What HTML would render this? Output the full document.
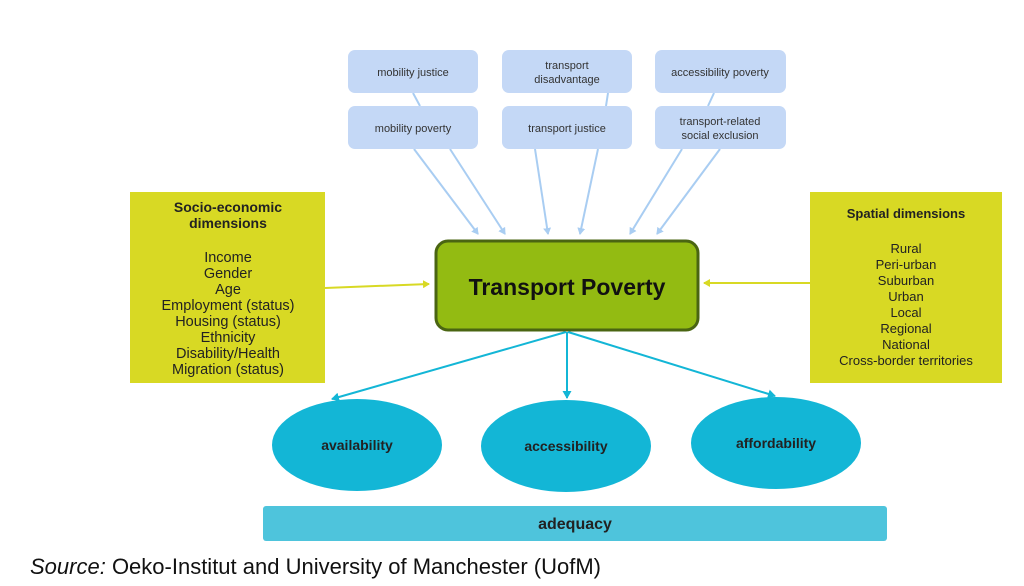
<!DOCTYPE html>
<html><head><style>
body{margin:0;background:#fff;width:1024px;height:581px;overflow:hidden;font-family:"Liberation Sans",sans-serif}
</style></head><body>
<svg width="1024" height="581" viewBox="0 0 1024 581" xmlns="http://www.w3.org/2000/svg" font-family="Liberation Sans, sans-serif">
<defs>
<marker id="ab" markerWidth="8" markerHeight="8" refX="6" refY="4" orient="auto" markerUnits="userSpaceOnUse"><path d="M0,0 L7,4 L0,8 z" fill="#a9cdf2"/></marker>
<marker id="ay" markerWidth="8" markerHeight="8" refX="6" refY="4" orient="auto" markerUnits="userSpaceOnUse"><path d="M0,0 L7,4 L0,8 z" fill="#d8d924"/></marker>
<marker id="ac" markerWidth="9" markerHeight="9" refX="7" refY="4.5" orient="auto" markerUnits="userSpaceOnUse"><path d="M0,0 L8,4.5 L0,9 z" fill="#13b6d6"/></marker>
</defs>
<g stroke="#a9cdf2" stroke-width="2">
<line x1="413" y1="93" x2="420" y2="106"/><line x1="608" y1="93" x2="606" y2="106"/><line x1="714" y1="93" x2="708" y2="106"/>
<line x1="414" y1="149" x2="478" y2="234" marker-end="url(#ab)"/>
<line x1="450" y1="149" x2="505" y2="234" marker-end="url(#ab)"/>
<line x1="535" y1="149" x2="548" y2="234" marker-end="url(#ab)"/>
<line x1="598" y1="149" x2="580" y2="234" marker-end="url(#ab)"/>
<line x1="682" y1="149" x2="630" y2="234" marker-end="url(#ab)"/>
<line x1="720" y1="149" x2="657" y2="234" marker-end="url(#ab)"/>
</g>
<g fill="#c4d8f6">
<rect x="348" y="50" width="130" height="43" rx="7"/><rect x="348" y="106" width="130" height="43" rx="7"/>
<rect x="502" y="50" width="130" height="43" rx="7"/><rect x="502" y="106" width="130" height="43" rx="7"/>
<rect x="655" y="50" width="131" height="43" rx="7"/><rect x="655" y="106" width="131" height="43" rx="7"/>
</g>
<g font-size="11" fill="#333" text-anchor="middle">
<text x="413" y="76">mobility justice</text>
<text x="413" y="132">mobility poverty</text>
<text x="567" y="69">transport</text><text x="567" y="83">disadvantage</text>
<text x="567" y="132">transport justice</text>
<text x="720" y="76">accessibility poverty</text>
<text x="720" y="125">transport-related</text><text x="720" y="139">social exclusion</text>
</g>
<rect x="130" y="192" width="195" height="191" fill="#d8d924"/>
<rect x="810" y="192" width="192" height="191" fill="#d8d924"/>
<g font-size="14.5" fill="#222" text-anchor="middle">
<text x="228" y="212" font-weight="bold" font-size="14">Socio-economic</text>
<text x="228" y="228" font-weight="bold" font-size="14">dimensions</text>
<text x="228" y="262">Income</text><text x="228" y="278">Gender</text><text x="228" y="294">Age</text>
<text x="228" y="310">Employment (status)</text><text x="228" y="326">Housing (status)</text>
<text x="228" y="342">Ethnicity</text><text x="228" y="358">Disability/Health</text><text x="228" y="374">Migration (status)</text>
</g>
<g font-size="13" fill="#222" text-anchor="middle">
<text x="906" y="218" font-weight="bold">Spatial dimensions</text>
<text x="906" y="253">Rural</text><text x="906" y="269">Peri-urban</text><text x="906" y="285">Suburban</text>
<text x="906" y="301">Urban</text><text x="906" y="317">Local</text><text x="906" y="333">Regional</text>
<text x="906" y="349">National</text><text x="906" y="365">Cross-border territories</text>
</g>
<line x1="325" y1="288" x2="429" y2="284" stroke="#d8d924" stroke-width="2" marker-end="url(#ay)"/>
<line x1="810" y1="283" x2="704" y2="283" stroke="#d8d924" stroke-width="2" marker-end="url(#ay)"/>
<rect x="436" y="241" width="262" height="89" rx="12" fill="#93bb12" stroke="#4a6512" stroke-width="3"/>
<text x="567" y="295" font-size="23" font-weight="bold" text-anchor="middle" fill="#111">Transport Poverty</text>
<g stroke="#13b6d6" stroke-width="2">
<line x1="566" y1="332" x2="332" y2="399" marker-end="url(#ac)"/>
<line x1="567" y1="332" x2="567" y2="398" marker-end="url(#ac)"/>
<line x1="568" y1="332" x2="775" y2="396" marker-end="url(#ac)"/>
</g>
<g fill="#13b6d6">
<ellipse cx="357" cy="445" rx="85" ry="46"/>
<ellipse cx="566" cy="446" rx="85" ry="46"/>
<ellipse cx="776" cy="443" rx="85" ry="46"/>
</g>
<g font-size="14" font-weight="bold" fill="#222" text-anchor="middle">
<text x="357" y="450">availability</text><text x="566" y="451">accessibility</text><text x="776" y="448">affordability</text>
</g>
<rect x="263" y="506" width="624" height="35" rx="3" fill="#4ec4dc"/>
<text x="575" y="529" font-size="16" font-weight="bold" text-anchor="middle" fill="#222">adequacy</text>
<text x="30" y="574" font-size="22" fill="#111"><tspan font-style="italic">Source:</tspan> Oeko-Institut and University of Manchester (UofM)</text>
</svg>
</body></html>
